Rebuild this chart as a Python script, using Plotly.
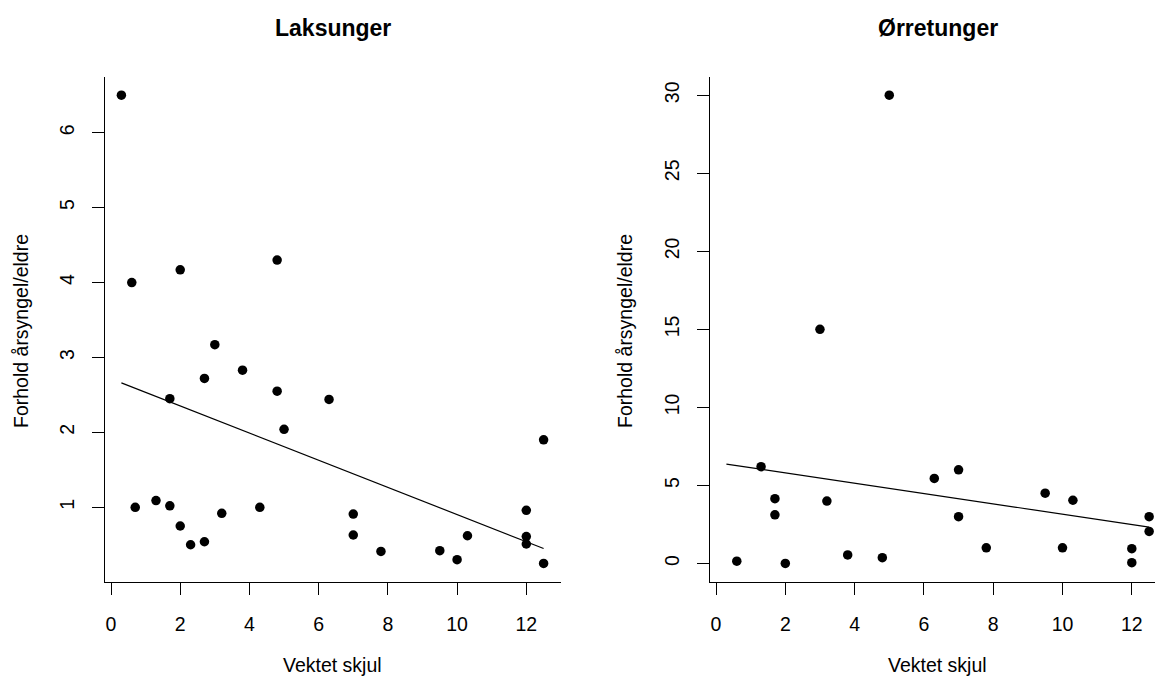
import plotly.graph_objects as go

# ---- data ----
laks_x = [0.3, 0.6, 2.0, 4.8, 3.0, 3.8, 2.7, 1.7, 4.8, 6.3, 5.0, 12.5, 0.7, 1.3, 1.7,
          2.0, 2.3, 2.7, 3.2, 4.3, 7.0, 7.0, 7.8, 9.5, 10.0, 10.3, 12.0, 12.0, 12.0, 12.5]
laks_y = [6.5, 4.0, 4.17, 4.3, 3.17, 2.83, 2.72, 2.45, 2.55, 2.44, 2.04, 1.9, 1.0, 1.09, 1.02,
          0.75, 0.5, 0.54, 0.92, 1.0, 0.91, 0.63, 0.41, 0.42, 0.3, 0.62, 0.96, 0.61, 0.51, 0.25]
laks_trend_x = [0.3, 12.5]
laks_trend_y = [2.66, 0.45]

orret_x = [0.6, 1.3, 1.7, 1.7, 2.0, 3.0, 3.2, 3.8, 4.8, 5.0, 6.3, 7.0, 7.0, 7.8, 9.5,
           10.0, 10.3, 12.0, 12.0, 12.5, 12.5]
orret_y = [0.15, 6.2, 4.15, 3.12, 0.0, 15.0, 4.0, 0.55, 0.37, 30.0, 5.45, 6.0, 3.0, 1.0, 4.5,
           1.0, 4.05, 0.95, 0.05, 3.0, 2.05]
orret_trend_x = [0.3, 12.5]
orret_trend_y = [6.37, 2.33]

titles = ["Laksunger", "Ørretunger"]
x_label = "Vektet skjul"
y_label = "Forhold årsyngel/eldre"
x_ticks = [0, 2, 4, 6, 8, 10, 12]
laks_y_ticks = [1, 2, 3, 4, 5, 6]
orret_y_ticks = [0, 5, 10, 15, 20, 25, 30]

# ---- layout geometry (pixels) ----
W, H = 1155, 678
FONT = "Liberation Sans, Arial, sans-serif"
LBL = 19.5
TTL = 23

left_dom = [104.5 / W, 560.5 / W]
right_dom = [709.5 / W, 1.0]
y_dom = [(H - 582.2) / H, (H - 76.5) / H]

fig = go.Figure()

fig.add_trace(go.Scatter(x=laks_x, y=laks_y, mode="markers",
                         marker=dict(color="black", size=9.5),
                         cliponaxis=False, xaxis="x", yaxis="y", showlegend=False))
fig.add_trace(go.Scatter(x=laks_trend_x, y=laks_trend_y, mode="lines",
                         line=dict(color="black", width=1.2),
                         xaxis="x", yaxis="y", showlegend=False))
fig.add_trace(go.Scatter(x=orret_x, y=orret_y, mode="markers",
                         marker=dict(color="black", size=9.5),
                         cliponaxis=False, xaxis="x2", yaxis="y2", showlegend=False))
fig.add_trace(go.Scatter(x=orret_trend_x, y=orret_trend_y, mode="lines",
                         line=dict(color="black", width=1.2),
                         xaxis="x2", yaxis="y2", showlegend=False))

axis_common = dict(showgrid=False, zeroline=False, showline=True, linecolor="black",
                   linewidth=1, ticks="outside", ticklen=12, tickcolor="black",
                   tickwidth=1, tickfont=dict(family=FONT, size=LBL, color="black"))

fig.update_layout(
    width=W, height=H,
    margin=dict(l=0, r=0, t=0, b=0),
    paper_bgcolor="white", plot_bgcolor="white",
    xaxis=dict(domain=left_dom, range=[-0.188, 12.988], tickvals=x_ticks,
               anchor="y", ticklabelstandoff=12, **axis_common),
    yaxis=dict(domain=y_dom, range=[0, 6.75], tickvals=laks_y_ticks,
               anchor="x", tickangle=-90, ticklabelstandoff=10, **axis_common),
    xaxis2=dict(domain=right_dom, range=[-0.188, (W - 716) / 34.65], tickvals=x_ticks,
                anchor="y2", ticklabelstandoff=12, **axis_common),
    yaxis2=dict(domain=y_dom, range=[-1.2, 31.2], tickvals=orret_y_ticks,
                anchor="x2", tickangle=-90, ticklabelstandoff=10, **axis_common),
)

centers = [332.5 / W, 937.6 / W]
ylab_x = [21 / W, 625 / W]
for i in range(2):
    fig.add_annotation(text="<b>%s</b>" % titles[i], x=centers[i], y=1 - 28 / H,
                       xref="paper", yref="paper", xanchor="center", yanchor="middle",
                       showarrow=False, font=dict(family=FONT, size=TTL, color="black"))
    fig.add_annotation(text=x_label, x=centers[i], y=1 - 665 / H,
                       xref="paper", yref="paper", xanchor="center", yanchor="middle",
                       showarrow=False, font=dict(family=FONT, size=LBL, color="black"))
    fig.add_annotation(text=y_label, x=ylab_x[i], y=1 - 331 / H, textangle=-90,
                       xref="paper", yref="paper", xanchor="center", yanchor="middle",
                       showarrow=False, font=dict(family=FONT, size=LBL, color="black"))

fig.write_html("out.html")
